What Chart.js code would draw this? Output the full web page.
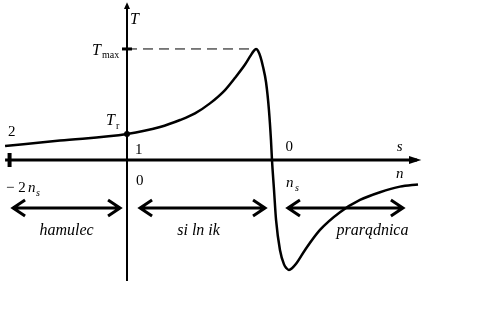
<!DOCTYPE html>
<html>
<head>
<meta charset="utf-8">
<script src="https://cdn.jsdelivr.net/npm/chart.js@4"></script>
<style>
  body { margin: 0; background: #fff; }
  #wrap { width: 487px; height: 316px; }
</style>
</head>
<body>
<div id="wrap"><canvas id="torqueChart" width="487" height="316"></canvas></div>
<script>
// predkosc (n_s = 1) i moment (T_max = 1)
const speed = [-0.841, -0.462, 0, 0.228, 0.366, 0.469, 0.572, 0.676, 0.745, 0.814, 0.850, 0.876, 0.890,
               0.903, 0.920, 0.938, 0.959, 0.979, 0.993, 1.0, 1.014, 1.028, 1.055, 1.083, 1.100, 1.117,
               1.138, 1.166, 1.228, 1.331, 1.469, 1.607, 1.745, 1.883, 2.007];
const torque = [0.126, 0.175, 0.234, 0.297, 0.36, 0.42, 0.51, 0.63, 0.74, 0.86, 0.935, 0.985, 1.0,
                0.985, 0.93, 0.84, 0.70, 0.45, 0.18, 0, -0.27, -0.54, -0.81, -0.94, -0.975, -0.99,
                -0.975, -0.935, -0.81, -0.63, -0.47, -0.36, -0.29, -0.24, -0.22];
const tMax = 1;
const tStart = 0.234;
const peakSpeed = 0.890;
const regionNames = ['hamulec', 'si ln ik', 'prarądnica'];
const regionSpans = [[-0.786, -0.048], [0.09, 0.952], [1.11, 1.903]];
const labelShift = [0, -4, 27];

const serif = '"Liberation Serif", "DejaVu Serif", serif';

// rysowanie osi, strzalek i opisow
const diagramPlugin = {
  id: 'diagram',
  beforeDatasetsDraw(chart) {
    const ctx = chart.ctx;
    const xs = chart.scales.x, ys = chart.scales.y;
    const px = v => xs.getPixelForValue(v);
    const py = v => ys.getPixelForValue(v);
    const x0 = px(0), y0 = py(0);

    ctx.save();
    ctx.strokeStyle = '#000';
    ctx.fillStyle = '#000';

    // os pozioma
    ctx.lineWidth = 3;
    ctx.beginPath();
    ctx.moveTo(px(-0.841), y0);
    ctx.lineTo(px(2.0), y0);
    ctx.stroke();
    ctx.beginPath();
    ctx.moveTo(px(2.03), y0);
    ctx.lineTo(px(2.0) - 8, y0 - 4);
    ctx.lineTo(px(2.0) - 8, y0 + 4);
    ctx.closePath();
    ctx.fill();
    // znacznik s = 2
    ctx.lineWidth = 4;
    ctx.beginPath();
    ctx.moveTo(px(-0.81), y0 - 7);
    ctx.lineTo(px(-0.81), y0 + 7);
    ctx.stroke();

    // os pionowa
    ctx.lineWidth = 2;
    ctx.beginPath();
    ctx.moveTo(x0, py(1.39));
    ctx.lineTo(x0, py(-1.09));
    ctx.stroke();
    ctx.beginPath();
    ctx.moveTo(x0, py(1.42));
    ctx.lineTo(x0 - 3, py(1.36));
    ctx.lineTo(x0 + 3, py(1.36));
    ctx.closePath();
    ctx.fill();

    // T_max
    ctx.lineWidth = 3;
    ctx.beginPath();
    ctx.moveTo(x0 - 5, py(tMax));
    ctx.lineTo(x0 + 5, py(tMax));
    ctx.stroke();
    ctx.lineWidth = 1;
    ctx.setLineDash([10, 6]);
    ctx.beginPath();
    ctx.moveTo(x0, py(tMax));
    ctx.lineTo(px(peakSpeed), py(tMax));
    ctx.stroke();
    ctx.setLineDash([]);

    // T_r
    ctx.beginPath();
    ctx.arc(x0, py(tStart), 3, 0, Math.PI * 2);
    ctx.fill();

    // strzalki zakresow
    const ay = py(-0.432);
    ctx.lineWidth = 3;
    regionSpans.forEach(([a, b]) => {
      const xa = px(a), xb = px(b);
      ctx.beginPath();
      ctx.moveTo(xa, ay);
      ctx.lineTo(xb, ay);
      ctx.moveTo(xa + 12, ay - 8);
      ctx.lineTo(xa, ay);
      ctx.lineTo(xa + 12, ay + 8);
      ctx.moveTo(xb - 12, ay - 8);
      ctx.lineTo(xb, ay);
      ctx.lineTo(xb - 12, ay + 8);
      ctx.stroke();
    });

    // opisy
    ctx.textBaseline = 'alphabetic';
    ctx.textAlign = 'left';
    const it = s => 'italic ' + s + 'px ' + serif;
    const rm = s => s + 'px ' + serif;

    ctx.font = it(16); ctx.fillText('T', x0 + 3, 24);
    ctx.font = it(16); ctx.fillText('T', 92, 55);
    ctx.font = rm(10); ctx.fillText('max', 102, 58);
    ctx.font = it(16); ctx.fillText('T', 106, 125);
    ctx.font = rm(10); ctx.fillText('r', 116, 129);

    ctx.font = rm(15);
    ctx.fillText('2', 8, 136);
    ctx.fillText('1', x0 + 8, 154);
    ctx.fillText('0', x0 + 9, 185);
    ctx.fillText('0', px(1.1) - 1, 151);

    ctx.font = it(15);
    ctx.fillText('s', px(1.86), 151);
    ctx.fillText('n', px(1.855), 178);
    ctx.fillText('n', px(1.11) - 2, 187);
    ctx.font = it(10); ctx.fillText('s', px(1.11) + 7, 191);

    ctx.font = rm(15); ctx.fillText('\u2212 2', 6, 192);
    ctx.font = it(15); ctx.fillText('n', 28, 192);
    ctx.font = it(10); ctx.fillText('s', 36, 196);

    ctx.font = it(16);
    ctx.textAlign = 'center';
    const ly = py(-0.432) + 27;
    regionNames.forEach((name, i) => {
      const [a, b] = regionSpans[i];
      ctx.fillText(name, px((a + b) / 2) + labelShift[i], ly);
    });
    ctx.restore();
  }
};

new Chart(document.getElementById('torqueChart').getContext('2d'), {
  type: 'line',
  data: {
    datasets: [{
      data: speed.map((v, i) => ({ x: v, y: torque[i] })),
      borderColor: '#000',
      borderWidth: 2.5,
      pointRadius: 0,
      fill: false,
      cubicInterpolationMode: 'monotone'
    }]
  },
  options: {
    responsive: false,
    animation: false,
    layout: { padding: 0 },
    plugins: { legend: { display: false }, tooltip: { enabled: false } },
    scales: {
      x: { type: 'linear', min: -0.876, max: 2.483, display: false },
      y: { type: 'linear', min: -1.405, max: 1.441, display: false }
    }
  },
  plugins: [diagramPlugin]
});
</script>
</body>
</html>
